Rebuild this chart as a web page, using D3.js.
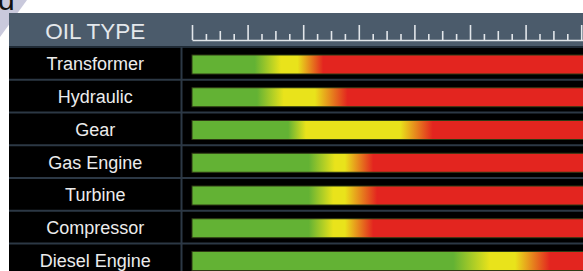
<!DOCTYPE html>
<html>
<head>
<meta charset="utf-8">
<script src="https://cdn.jsdelivr.net/npm/d3@7"></script>
<style>
  html, body { margin: 0; padding: 0; background: #fff; overflow: hidden; }
  svg { display: block; font-family: "Liberation Sans", Arial, sans-serif; }
</style>
</head>
<body>
<div id="chart"></div>
<script>
// oil types and the zone limits (in scale units, 10 per major tick)
const oilTypes = ['Transformer', 'Hydraulic', 'Gear', 'Gas Engine', 'Turbine', 'Compressor', 'Diesel Engine'];
const greenEnd    = [11.3, 11.7, 17.3, 21.0, 21.0, 21.0, 47.0];
const yellowStart = [16.0, 16.5, 20.5, 25.7, 25.4, 25.4, 53.6];
const yellowEnd   = [19.0, 22.1, 37.4, 27.5, 27.5, 27.5, 58.1];
const redStart    = [23.6, 28.0, 43.3, 32.6, 33.3, 32.6, 64.4];
const scaleMax = 100;
const tickStep = 2.5;
const headerLabel = 'OIL TYPE';

const width = 583, height = 271;
const colGreen = '#63b234', colYellow = '#e9e31b', colRed = '#e3251f';

const svg = d3.select('#chart').append('svg')
    .attr('width', width)
    .attr('height', height);

// corner decoration
svg.append('path')
    .attr('d', 'M0,0 L27,0 L0,37 Z')
    .attr('fill', '#c9c9dc');
svg.append('text')
    .attr('x', -2).attr('y', 10)
    .attr('font-size', 30)
    .attr('fill', '#111')
    .text('d');

const tableLeft = 9, divider = 181.5, headerTop = 13, headerBottom = 47;

const xScale = d3.scaleLinear()
    .domain([0, scaleMax])
    .range([192, 192 + 55.6 * 10]);

const yScale = d3.scaleBand()
    .domain(oilTypes)
    .range([headerBottom, headerBottom + 32.75 * oilTypes.length]);

// header band
svg.append('rect')
    .attr('x', tableLeft).attr('y', headerTop)
    .attr('width', width).attr('height', headerBottom - headerTop)
    .attr('fill', '#4b5b6b');

svg.append('text')
    .attr('x', (tableLeft + divider) / 2)
    .attr('y', (headerTop + headerBottom) / 2 + 1)
    .attr('text-anchor', 'middle')
    .attr('dominant-baseline', 'central')
    .attr('font-size', 22.5)
    .attr('fill', '#e4e8ec')
    .text(headerLabel);

// scale ruler
const ticks = d3.range(0, scaleMax + 0.01, tickStep);
const ruler = svg.append('g')
    .attr('transform', 'translate(0,40)')
    .call(d3.axisTop(xScale).tickValues(ticks).tickSizeOuter(0).tickFormat(''));
ruler.select('.domain').attr('stroke', '#e2e6ea').attr('stroke-width', 1.6);
ruler.selectAll('.tick line')
    .attr('stroke', '#e2e6ea')
    .attr('stroke-width', 1.6)
    .attr('y2', d => d % 10 === 0 ? -15 : (d % 5 === 0 ? -9 : -6));

// table body
svg.append('rect')
    .attr('x', tableLeft).attr('y', headerBottom)
    .attr('width', width).attr('height', height - headerBottom)
    .attr('fill', '#000');

svg.append('line')
    .attr('x1', tableLeft).attr('x2', width)
    .attr('y1', headerBottom).attr('y2', headerBottom)
    .attr('stroke', '#1f2a35').attr('stroke-width', 2);

svg.selectAll('.sep')
    .data(oilTypes.slice(1))
    .enter()
    .append('line')
    .attr('class', 'sep')
    .attr('x1', tableLeft).attr('x2', width)
    .attr('y1', d => yScale(d)).attr('y2', d => yScale(d))
    .attr('stroke', '#2c3845').attr('stroke-width', 2);

svg.append('line')
    .attr('x1', divider).attr('x2', divider)
    .attr('y1', headerBottom).attr('y2', height)
    .attr('stroke', '#2c3845').attr('stroke-width', 2);

// labels
svg.selectAll('.label')
    .data(oilTypes)
    .enter()
    .append('text')
    .attr('class', 'label')
    .attr('x', (tableLeft + divider) / 2)
    .attr('y', d => yScale(d) + yScale.bandwidth() / 2 + 1)
    .attr('text-anchor', 'middle')
    .attr('dominant-baseline', 'central')
    .attr('font-size', 18)
    .attr('fill', '#ececec')
    .text(d => d);

// gradients
const defs = svg.append('defs');
const x0 = xScale(0), x1 = xScale(scaleMax);
const off = v => (xScale(v) - x0) / (x1 - x0);

oilTypes.forEach((name, i) => {
    const g = defs.append('linearGradient')
        .attr('id', 'grad' + i)
        .attr('gradientUnits', 'userSpaceOnUse')
        .attr('x1', x0).attr('x2', x1)
        .attr('y1', 0).attr('y2', 0);
    const stops = [
        [0, colGreen],
        [off(greenEnd[i]), colGreen],
        [off(yellowStart[i]), colYellow],
        [off(yellowEnd[i]), colYellow],
        [off(redStart[i]), colRed],
        [1, colRed]
    ];
    g.selectAll('stop')
        .data(stops)
        .enter()
        .append('stop')
        .attr('offset', d => d[0])
        .attr('stop-color', d => d[1]);
});

svg.selectAll('.bar')
    .data(oilTypes)
    .enter()
    .append('rect')
    .attr('class', 'bar')
    .attr('x', xScale(0))
    .attr('y', d => yScale(d) + 8)
    .attr('width', xScale(scaleMax) - xScale(0))
    .attr('height', 19)
    .attr('fill', (d, i) => `url(#grad${i})`)
    .attr('stroke', '#2f3a14')
    .attr('stroke-width', 1);
</script>
</body>
</html>
